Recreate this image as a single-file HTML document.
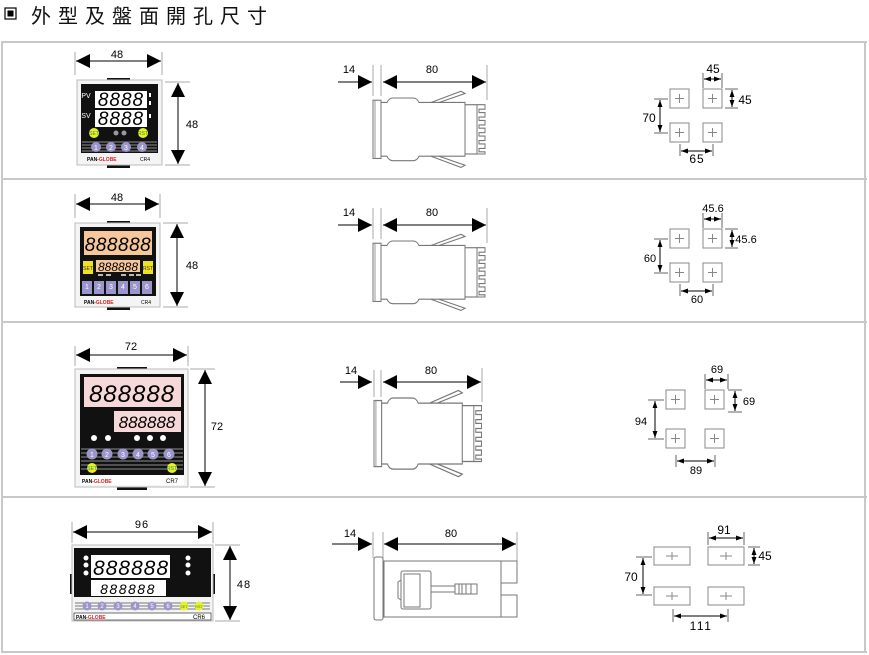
<!DOCTYPE html>
<html><head><meta charset="utf-8"><style>
html,body{margin:0;padding:0;background:#fff;}
svg{display:block;}
text{font-family:"Liberation Sans",Arial,sans-serif;}
</style></head><body>
<svg width="869" height="655" viewBox="0 0 869 655" xmlns="http://www.w3.org/2000/svg">
<defs>
<marker id="ar" viewBox="0 0 10 10" refX="10" refY="5" markerWidth="7" markerHeight="7" orient="auto-start-reverse" markerUnits="userSpaceOnUse"><path d="M0,1.5 L10,5 L0,8.5 z" fill="#000"/></marker>
<marker id="ab" viewBox="0 0 10 10" refX="10" refY="5" markerWidth="16" markerHeight="14" orient="auto-start-reverse" markerUnits="userSpaceOnUse"><path d="M0,0 L10,5 L0,10 z" fill="#000"/></marker>
<g id="side">
  <rect x="0" y="2" width="8" height="52" fill="#fff" stroke="#777" stroke-width="1"/>
  <line x1="2" y1="2" x2="2" y2="54" stroke="#999"/>
  <path d="M8,4 L14,4 Q16,0 20,0 L40,0 Q44,0 46,4 L92,4 L92,52 L46,52 Q44,56 40,56 L20,56 Q16,56 14,52 L8,52 z" fill="#fff" stroke="#777"/>
  <path d="M58,4 L88,-6 L92,-4 L66,4" fill="none" stroke="#777"/>
  <path d="M58,52 L88,62 L92,60 L66,52" fill="none" stroke="#777"/>
  <rect x="92" y="6" width="12" height="44" fill="#fff" stroke="#777"/>
  <path d="M104,6 L112,6 L112,10 L106,10 L106,13 L112,13 L112,17 L106,17 L106,20 L112,20 L112,24 L106,24 L106,27 L112,27 L112,31 L106,31 L106,34 L112,34 L112,38 L106,38 L106,41 L112,41 L112,45 L106,45 L106,48 L112,48 L112,50 L104,50" fill="none" stroke="#777"/>
</g>
<g id="sq"><rect x="0" y="0" width="19" height="19" fill="#fff" stroke="#888"/><path d="M5,9.5 H14 M9.5,5 V14" stroke="#888"/></g>
<g id="rc"><rect x="0" y="0" width="36" height="18" fill="#fff" stroke="#888"/><path d="M12,9 H24 M18,5 V13" stroke="#888"/></g>
</defs>

<rect x="5" y="8" width="11" height="11" fill="#fff" stroke="#000" stroke-width="1.2"/>
<rect x="7.5" y="10.5" width="6" height="6" fill="#000"/>
<text x="31" y="23" font-size="20" letter-spacing="7" font-family="'Liberation Sans','Noto Sans CJK TC',sans-serif" fill="#111">外型及盤面開孔尺寸</text>

<g stroke="#c8c8c8" stroke-width="2" fill="none">
<line x1="1" y1="42" x2="867" y2="42"/>
<line x1="1" y1="179" x2="867" y2="179"/>
<line x1="1" y1="322" x2="867" y2="322"/>
<line x1="1" y1="497" x2="867" y2="497"/>
<line x1="1" y1="652" x2="867" y2="652"/>
<line x1="2" y1="42" x2="2" y2="652"/>
<line x1="865" y1="42" x2="865" y2="652"/>
</g>

<g font-size="11" fill="#000" text-anchor="middle">
<line x1="75" y1="52" x2="75" y2="75" stroke="#aaa"/><line x1="162" y1="52" x2="162" y2="75" stroke="#aaa"/>
<line x1="76" y1="61" x2="161" y2="61" stroke="#000" marker-start="url(#ab)" marker-end="url(#ab)"/>
<text x="117" y="58">48</text>
<line x1="165" y1="82" x2="190" y2="82" stroke="#aaa"/><line x1="165" y1="165" x2="190" y2="165" stroke="#aaa"/>
<line x1="178" y1="83" x2="178" y2="164" stroke="#000" marker-start="url(#ab)" marker-end="url(#ab)"/>
<text x="192" y="128">48</text>
<rect x="107" y="78" width="23" height="4" fill="#111"/><rect x="107" y="164" width="23" height="4" fill="#111"/>
<rect x="77" y="80" width="85" height="85" fill="#f4f4f4" stroke="#bbb"/>
<rect x="81" y="84" width="77" height="69" fill="#111"/>
<text x="86" y="98" font-size="7" fill="#fff">PV</text><text x="86" y="118" font-size="7" fill="#fff">SV</text>
<rect x="95" y="91" width="52" height="17" fill="#fff"/><rect x="95" y="110" width="52" height="17" fill="#fff"/>
<text x="121" y="106" font-size="19" font-style="italic" letter-spacing="1">8888</text>
<text x="121" y="125" font-size="19" font-style="italic" letter-spacing="1">8888</text>
<rect x="149" y="93" width="2" height="4" fill="#fff"/><rect x="149" y="101" width="2" height="4" fill="#fff"/><rect x="149" y="114" width="2" height="4" fill="#fff"/>
<circle cx="94" cy="133" r="5" fill="#e8f02a"/><text x="94" y="135" font-size="5" fill="#393">SET</text>
<circle cx="143" cy="133" r="5" fill="#e8f02a"/><text x="143" y="135" font-size="5" fill="#393">RST</text>
<circle cx="116" cy="133" r="2.5" fill="#999"/><circle cx="124" cy="133" r="2.5" fill="#999"/>
<g stroke="#777" stroke-width="1.2"><line x1="82" y1="142" x2="157" y2="142"/><line x1="82" y1="145" x2="157" y2="145"/><line x1="82" y1="148" x2="157" y2="148"/><line x1="82" y1="151" x2="157" y2="151"/></g>
<g fill="#9a96cc"><circle cx="96" cy="147" r="5"/><circle cx="111" cy="147" r="5"/><circle cx="126" cy="147" r="5"/><circle cx="142" cy="147" r="5"/></g>
<g font-size="7" fill="#fff"><text x="96" y="150">1</text><text x="111" y="150">2</text><text x="126" y="150">3</text><text x="142" y="150">4</text></g>
<text x="87" y="161" font-size="5" font-weight="bold" text-anchor="start" fill="#000">PAN-<tspan fill="#d22">GLOBE</tspan></text>
<text x="145" y="161" font-size="5">CR4</text>

<line x1="338" y1="82" x2="372" y2="82" stroke="#000" marker-end="url(#ab)"/>
<line x1="383" y1="82" x2="486" y2="82" stroke="#000" marker-start="url(#ab)" marker-end="url(#ab)"/>
<line x1="373" y1="65" x2="373" y2="96" stroke="#aaa"/><line x1="381" y1="65" x2="381" y2="96" stroke="#aaa"/><line x1="487" y1="65" x2="487" y2="100" stroke="#aaa"/>
<text x="349" y="73">14</text><text x="432" y="73">80</text>
<use href="#side" transform="translate(373,98) scale(1,1.12)"/>

<use href="#sq" x="670" y="89"/><use href="#sq" x="703" y="89"/><use href="#sq" x="670" y="123"/><use href="#sq" x="703" y="123"/>
<line x1="703" y1="73" x2="703" y2="88" stroke="#666"/><line x1="722" y1="73" x2="722" y2="88" stroke="#666"/>
<line x1="704" y1="79" x2="721" y2="79" stroke="#000" marker-start="url(#ar)" marker-end="url(#ar)"/>
<text x="713" y="73" font-size="12">45</text>
<line x1="725" y1="89" x2="738" y2="89" stroke="#666"/><line x1="725" y1="108" x2="738" y2="108" stroke="#666"/>
<line x1="732" y1="90" x2="732" y2="107" stroke="#000" marker-start="url(#ar)" marker-end="url(#ar)"/>
<text x="745" y="104" font-size="12">45</text>
<line x1="654" y1="99" x2="668" y2="99" stroke="#666"/><line x1="654" y1="133" x2="668" y2="133" stroke="#666"/>
<line x1="660" y1="100" x2="660" y2="132" stroke="#000" marker-start="url(#ar)" marker-end="url(#ar)"/>
<text x="649" y="122" font-size="12">70</text>
<line x1="680" y1="144" x2="680" y2="156" stroke="#666"/><line x1="713" y1="144" x2="713" y2="156" stroke="#666"/>
<line x1="681" y1="151" x2="712" y2="151" stroke="#000" marker-start="url(#ar)" marker-end="url(#ar)"/>
<text x="697" y="163" font-size="12" letter-spacing="1">65</text>

<line x1="75" y1="194" x2="75" y2="218" stroke="#aaa"/><line x1="160" y1="194" x2="160" y2="218" stroke="#aaa"/>
<line x1="76" y1="204" x2="159" y2="204" stroke="#000" marker-start="url(#ab)" marker-end="url(#ab)"/>
<text x="117" y="201">48</text>
<line x1="163" y1="223" x2="188" y2="223" stroke="#aaa"/><line x1="163" y1="307" x2="188" y2="307" stroke="#aaa"/>
<line x1="177" y1="224" x2="177" y2="306" stroke="#000" marker-start="url(#ab)" marker-end="url(#ab)"/>
<text x="192" y="269">48</text>
<rect x="107" y="221" width="23" height="4" fill="#111"/><rect x="107" y="306" width="23" height="4" fill="#111"/>
<rect x="75" y="223" width="85" height="84" fill="#f4f4f4" stroke="#bbb"/>
<rect x="80" y="227" width="76" height="69" fill="#111"/>
<rect x="84" y="231" width="68" height="24" fill="#f5c79a"/>
<text x="118" y="251" font-size="19" font-style="italic" letter-spacing="0.5">888888</text>
<rect x="83" y="261" width="10" height="13" fill="#f0e020"/><text x="88" y="270" font-size="5" fill="#333">SET</text>
<rect x="143" y="261" width="10" height="13" fill="#f0e020"/><text x="148" y="270" font-size="5" fill="#333">RST</text>
<rect x="96" y="260" width="44" height="12" fill="#f5c79a"/>
<text x="118" y="271" font-size="12" font-style="italic">888888</text>
<g fill="#bbb"><rect x="98" y="274" width="5" height="2"/><rect x="106" y="274" width="5" height="2"/><rect x="121" y="274" width="5" height="2"/><rect x="129" y="274" width="5" height="2"/><rect x="136" y="274" width="5" height="2"/></g>
<g fill="#9a96cc"><rect x="82" y="281" width="10" height="13"/><rect x="94" y="281" width="10" height="13"/><rect x="106" y="281" width="10" height="13"/><rect x="118" y="281" width="10" height="13"/><rect x="130" y="281" width="10" height="13"/><rect x="142" y="281" width="10" height="13"/></g>
<g font-size="7" fill="#fff"><text x="87" y="289">1</text><text x="99" y="289">2</text><text x="111" y="289">3</text><text x="123" y="289">4</text><text x="135" y="289">5</text><text x="147" y="289">6</text></g>
<text x="84" y="304" font-size="5" font-weight="bold" text-anchor="start">PAN-<tspan fill="#d22">GLOBE</tspan></text>
<text x="146" y="304" font-size="5">CR4</text>

<line x1="338" y1="225" x2="372" y2="225" stroke="#000" marker-end="url(#ab)"/>
<line x1="383" y1="225" x2="486" y2="225" stroke="#000" marker-start="url(#ab)" marker-end="url(#ab)"/>
<line x1="373" y1="208" x2="373" y2="239" stroke="#aaa"/><line x1="381" y1="208" x2="381" y2="239" stroke="#aaa"/><line x1="487" y1="208" x2="487" y2="243" stroke="#aaa"/>
<text x="349" y="216">14</text><text x="432" y="216">80</text>
<use href="#side" transform="translate(373,241) scale(1,1.12)"/>

<use href="#sq" x="670" y="229"/><use href="#sq" x="703" y="229"/><use href="#sq" x="670" y="263"/><use href="#sq" x="703" y="263"/>
<line x1="703" y1="213" x2="703" y2="228" stroke="#666"/><line x1="722" y1="213" x2="722" y2="228" stroke="#666"/>
<line x1="704" y1="219" x2="721" y2="219" stroke="#000" marker-start="url(#ar)" marker-end="url(#ar)"/>
<text x="713" y="212" font-size="11">45.6</text>
<line x1="725" y1="229" x2="738" y2="229" stroke="#666"/><line x1="725" y1="248" x2="738" y2="248" stroke="#666"/>
<line x1="732" y1="230" x2="732" y2="247" stroke="#000" marker-start="url(#ar)" marker-end="url(#ar)"/>
<text x="746" y="243" font-size="11">45.6</text>
<line x1="654" y1="239" x2="668" y2="239" stroke="#666"/><line x1="654" y1="273" x2="668" y2="273" stroke="#666"/>
<line x1="660" y1="240" x2="660" y2="272" stroke="#000" marker-start="url(#ar)" marker-end="url(#ar)"/>
<text x="650" y="262" font-size="11">60</text>
<line x1="680" y1="284" x2="680" y2="296" stroke="#666"/><line x1="713" y1="284" x2="713" y2="296" stroke="#666"/>
<line x1="681" y1="291" x2="712" y2="291" stroke="#000" marker-start="url(#ar)" marker-end="url(#ar)"/>
<text x="697" y="303" font-size="11">60</text>

<line x1="75" y1="346" x2="75" y2="366" stroke="#aaa"/><line x1="188" y1="346" x2="188" y2="366" stroke="#aaa"/>
<line x1="76" y1="355" x2="187" y2="355" stroke="#000" marker-start="url(#ab)" marker-end="url(#ab)"/>
<text x="131" y="350">72</text>
<line x1="190" y1="369" x2="215" y2="369" stroke="#aaa"/><line x1="190" y1="487" x2="215" y2="487" stroke="#aaa"/>
<line x1="205" y1="370" x2="205" y2="486" stroke="#000" marker-start="url(#ab)" marker-end="url(#ab)"/>
<text x="217" y="430">72</text>
<rect x="117" y="367" width="30" height="4" fill="#111"/><rect x="117" y="486" width="30" height="4" fill="#111"/>
<rect x="75" y="369" width="113" height="118" fill="#f4f4f4" stroke="#bbb"/>
<rect x="80" y="374" width="104" height="101" fill="#111"/>
<rect x="84" y="377" width="97" height="30" fill="#f7d8d8"/>
<text x="132" y="402" font-size="24" font-style="italic" letter-spacing="1">888888</text>
<rect x="114" y="411" width="67" height="21" fill="#f7d8d8"/>
<text x="147" y="428" font-size="17" font-style="italic">888888</text>
<g fill="#fff"><circle cx="94" cy="438" r="3"/><circle cx="108" cy="438" r="3"/><circle cx="137" cy="438" r="3"/><circle cx="150" cy="438" r="3"/><circle cx="163" cy="438" r="3"/></g>
<g stroke="#777" stroke-width="1.3"><line x1="81" y1="449" x2="183" y2="449"/><line x1="81" y1="453" x2="183" y2="453"/><line x1="81" y1="457" x2="183" y2="457"/><line x1="81" y1="461" x2="183" y2="461"/><line x1="81" y1="465" x2="183" y2="465"/><line x1="81" y1="469" x2="183" y2="469"/></g>
<g fill="#9a96cc"><circle cx="92" cy="454" r="5.5"/><circle cx="107" cy="454" r="5.5"/><circle cx="123" cy="454" r="5.5"/><circle cx="138" cy="454" r="5.5"/><circle cx="153" cy="454" r="5.5"/><circle cx="169" cy="454" r="5.5"/></g>
<g font-size="7" fill="#fff"><text x="92" y="457">1</text><text x="107" y="457">2</text><text x="123" y="457">3</text><text x="138" y="457">4</text><text x="153" y="457">5</text><text x="169" y="457">6</text></g>
<circle cx="92" cy="468" r="5" fill="#e8f02a"/><text x="92" y="470" font-size="5" fill="#393">SET</text>
<circle cx="172" cy="468" r="5" fill="#e8f02a"/><text x="172" y="470" font-size="5" fill="#393">RST</text>
<rect x="80" y="475" width="104" height="10" fill="#fff"/>
<text x="82" y="483" font-size="5" font-weight="bold" text-anchor="start">PAN-<tspan fill="#d22">GLOBE</tspan></text>
<text x="172" y="483" font-size="6">CR7</text>

<line x1="340" y1="382" x2="372" y2="382" stroke="#000" marker-end="url(#ab)"/>
<line x1="383" y1="382" x2="481" y2="382" stroke="#000" marker-start="url(#ab)" marker-end="url(#ab)"/>
<line x1="374" y1="370" x2="374" y2="397" stroke="#aaa"/><line x1="381" y1="370" x2="381" y2="397" stroke="#aaa"/><line x1="482" y1="368" x2="482" y2="402" stroke="#aaa"/>
<text x="351" y="374">14</text><text x="431" y="374">80</text>
<use href="#side" transform="translate(374,398) scale(0.96,1.27)"/>

<use href="#sq" x="666" y="390"/><use href="#sq" x="705" y="390"/><use href="#sq" x="666" y="429"/><use href="#sq" x="705" y="429"/>
<line x1="705" y1="374" x2="705" y2="389" stroke="#666"/><line x1="728" y1="374" x2="728" y2="389" stroke="#666"/>
<line x1="706" y1="380" x2="727" y2="380" stroke="#000" marker-start="url(#ar)" marker-end="url(#ar)"/>
<text x="717" y="373" font-size="11">69</text>
<line x1="728" y1="390" x2="742" y2="390" stroke="#666"/><line x1="728" y1="412" x2="742" y2="412" stroke="#666"/>
<line x1="735" y1="391" x2="735" y2="411" stroke="#000" marker-start="url(#ar)" marker-end="url(#ar)"/>
<text x="749" y="405" font-size="11">69</text>
<line x1="648" y1="400" x2="664" y2="400" stroke="#666"/><line x1="648" y1="439" x2="664" y2="439" stroke="#666"/>
<line x1="655" y1="401" x2="655" y2="438" stroke="#000" marker-start="url(#ar)" marker-end="url(#ar)"/>
<text x="641" y="425" font-size="11">94</text>
<line x1="676" y1="455" x2="676" y2="467" stroke="#666"/><line x1="715" y1="455" x2="715" y2="467" stroke="#666"/>
<line x1="677" y1="461" x2="714" y2="461" stroke="#000" marker-start="url(#ar)" marker-end="url(#ar)"/>
<text x="696" y="474" font-size="11">89</text>

<line x1="72" y1="522" x2="72" y2="543" stroke="#aaa"/><line x1="213" y1="522" x2="213" y2="543" stroke="#aaa"/>
<line x1="73" y1="532" x2="212" y2="532" stroke="#000" marker-start="url(#ab)" marker-end="url(#ab)"/>
<text x="142" y="528" letter-spacing="1">96</text>
<line x1="215" y1="545" x2="240" y2="545" stroke="#aaa"/><line x1="215" y1="621" x2="240" y2="621" stroke="#aaa"/>
<line x1="230" y1="546" x2="230" y2="620" stroke="#000" marker-start="url(#ab)" marker-end="url(#ab)"/>
<text x="244" y="588" letter-spacing="1">48</text>
<rect x="70" y="574" width="3" height="20" fill="#111"/><rect x="212" y="574" width="3" height="20" fill="#111"/>
<rect x="72" y="545" width="141" height="76" fill="#f4f4f4" stroke="#bbb"/>
<rect x="74" y="548" width="137" height="49" fill="#111"/>
<rect x="91" y="555" width="79" height="23" fill="#fff"/>
<text x="131" y="575" font-size="21" font-style="italic" letter-spacing="1">888888</text>
<rect x="91" y="580" width="75" height="16" fill="#fff"/>
<text x="128" y="594" font-size="14" font-style="italic" letter-spacing="1.5">888888</text>
<g fill="#fff"><circle cx="86" cy="558" r="2.5"/><circle cx="86" cy="565" r="2.5"/><circle cx="86" cy="573" r="2.5"/><circle cx="188" cy="558" r="2.5"/><circle cx="188" cy="565" r="2.5"/><circle cx="188" cy="573" r="2.5"/></g>
<g stroke="#777" stroke-width="1"><line x1="75" y1="603" x2="210" y2="603"/><line x1="75" y1="606" x2="210" y2="606"/><line x1="75" y1="609" x2="210" y2="609"/></g>
<g fill="#9a96cc"><circle cx="87" cy="606" r="4.5"/><circle cx="102" cy="606" r="4.5"/><circle cx="118" cy="606" r="4.5"/><circle cx="135" cy="606" r="4.5"/><circle cx="152" cy="606" r="4.5"/><circle cx="168" cy="606" r="4.5"/></g>
<g font-size="6" fill="#fff"><text x="87" y="608">1</text><text x="102" y="608">2</text><text x="118" y="608">3</text><text x="135" y="608">4</text><text x="152" y="608">5</text><text x="168" y="608">6</text></g>
<circle cx="184" cy="606" r="4.5" fill="#e8f02a"/><text x="184" y="608" font-size="4" fill="#393">SET</text>
<circle cx="199" cy="606" r="4.5" fill="#e8f02a"/><text x="199" y="608" font-size="4" fill="#393">RST</text>
<rect x="74" y="613" width="137" height="7" fill="#fff" stroke="#111" stroke-width="0.6"/>
<text x="76" y="619" font-size="5" font-weight="bold" text-anchor="start">PAN-<tspan fill="#d22">GLOBE</tspan></text>
<text x="199" y="619" font-size="6">CR6</text>

<line x1="332" y1="544" x2="372" y2="544" stroke="#000" marker-end="url(#ab)"/>
<line x1="384" y1="544" x2="516" y2="544" stroke="#000" marker-start="url(#ab)" marker-end="url(#ab)"/>
<line x1="373" y1="532" x2="373" y2="558" stroke="#aaa"/><line x1="383" y1="532" x2="383" y2="560" stroke="#aaa"/><line x1="517" y1="532" x2="517" y2="562" stroke="#aaa"/>
<text x="350" y="537">14</text><text x="451" y="537">80</text>
<rect x="374" y="557" width="9" height="63" rx="2" fill="#fff" stroke="#777"/>
<rect x="384" y="561" width="117" height="56" fill="#fff" stroke="#777"/>
<rect x="401" y="571" width="30" height="38" rx="2" fill="#fff" stroke="#777"/>
<rect x="404" y="574" width="16" height="33" fill="#fff" stroke="#777"/>
<path d="M401,580 L398,582 L398,598 L401,600" fill="none" stroke="#777"/>
<rect x="431" y="586" width="24" height="6" fill="#fff" stroke="#777"/>
<path d="M455,584 h4 v10 h-4 z M459,584 h3 v10 h-3 z M462,584 h4 v10 h-4 z M466,584 h5 v10 h-5 z M471,584 h6 v10 h-6 z" fill="#fff" stroke="#777"/>
<rect x="501" y="561" width="16" height="22" fill="#fff" stroke="#777"/>
<rect x="501" y="595" width="16" height="22" fill="#fff" stroke="#777"/>

<use href="#rc" x="654" y="547"/><use href="#rc" x="708" y="547"/><use href="#rc" x="654" y="587"/><use href="#rc" x="708" y="587"/>
<line x1="708" y1="532" x2="708" y2="545" stroke="#666"/><line x1="744" y1="532" x2="744" y2="545" stroke="#666"/>
<line x1="709" y1="538" x2="743" y2="538" stroke="#000" marker-start="url(#ar)" marker-end="url(#ar)"/>
<text x="724" y="534" font-size="12">91</text>
<line x1="748" y1="547" x2="760" y2="547" stroke="#666"/><line x1="748" y1="565" x2="760" y2="565" stroke="#666"/>
<line x1="754" y1="548" x2="754" y2="564" stroke="#000" marker-start="url(#ar)" marker-end="url(#ar)"/>
<text x="765" y="560" font-size="12">45</text>
<line x1="636" y1="557" x2="652" y2="557" stroke="#666"/><line x1="636" y1="595" x2="652" y2="595" stroke="#666"/>
<line x1="643" y1="558" x2="643" y2="594" stroke="#000" marker-start="url(#ar)" marker-end="url(#ar)"/>
<text x="631" y="581" font-size="12">70</text>
<line x1="673" y1="609" x2="673" y2="622" stroke="#666"/><line x1="728" y1="609" x2="728" y2="622" stroke="#666"/>
<line x1="674" y1="616" x2="727" y2="616" stroke="#000" marker-start="url(#ar)" marker-end="url(#ar)"/>
<text x="701" y="630" font-size="12" letter-spacing="1.5">111</text>
</g>
</svg>
</body></html>
